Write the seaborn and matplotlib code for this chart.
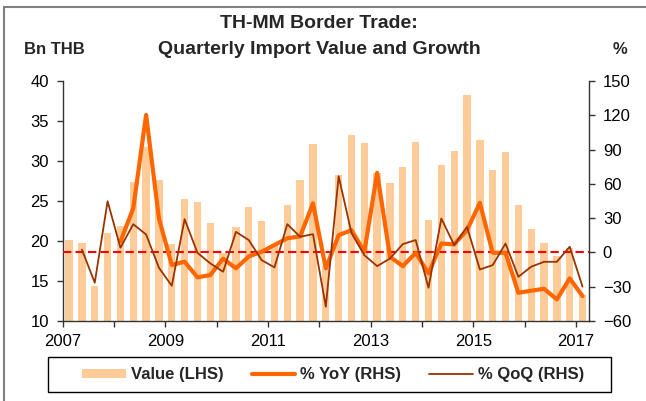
import numpy as np
import pandas as pd
import matplotlib.pyplot as plt
import matplotlib.patches as mpatches
from matplotlib.lines import Line2D
import seaborn as sns

# quarterly series, 2007Q1 - 2017Q1
quarters = [f"{y}Q{q}" for y in range(2007, 2018) for q in range(1, 5)][:41]

# import value, Bn THB (LHS)
value = [20.1, 19.7, 14.4, 21.0, 21.9, 27.4, 31.7, 27.6, 19.6, 25.3,
         24.9, 22.3, 18.5, 21.8, 24.2, 22.5, 19.6, 24.5, 27.6, 32.1,
         16.9, 28.2, 33.2, 32.3, 28.5, 27.2, 29.2, 32.4, 22.6, 29.5,
         31.3, 38.2, 32.6, 28.9, 31.1, 24.5, 21.5, 19.8, 18.1, 19.1,
         13.3]

# % YoY (RHS)
yoy = [np.nan] * 4 + [9.4, 38.6, 120.3, 29.8, -11.0, -8.1, -21.8, -19.8, -5.5, -13.9,
                      -3.5, 0.6, 6.5, 12.4, 14.0, 43.0, -13.9, 15.1, 19.5, 0.6,
                      69.6, -3.8, -12.0, -0.3, -18.4, 7.8, 7.0, 19.5, 43.4, -0.3,
                      -0.3, -35.3, -33.5, -31.8, -41.1, -22.7, -38.2]

# % QoQ (RHS)
qoq = [np.nan] + [2.5, -26.5, 44.8, 4.1, 24.7, 15.7, -13.4, -29.2, 29.1, -0.3,
                  -9.6, -16.9, 18.0, 10.8, -6.7, -13.1, 24.7, 13.7, 16.0, -47.5,
                  66.7, 17.0, -2.4, -12.0, -5.3, 7.3, 10.8, -30.9, 29.7, 6.4,
                  22.4, -14.9, -11.1, 7.8, -21.3, -12.5, -8.2, -8.2, 5.0, -30.0]

year_ticks = list(range(2007, 2018))
year_labels = [str(y) if y % 2 == 1 else '' for y in year_ticks]

per = pd.PeriodIndex(quarters, freq='Q')
df = pd.DataFrame({'x': per.year + (per.quarter - 0.5) / 4,
                   'value': value, 'yoy': yoy, 'qoq': qoq})

sns.set_style('ticks')
plt.rcParams['font.family'] = ['Liberation Sans', 'DejaVu Sans']

fig = plt.figure(figsize=(6.46, 4.01), dpi=100)
ax = fig.add_axes([0.097, 0.1995, 0.8147, 0.5985])

sns.barplot(data=df, x='x', y='value', native_scale=True, width=0.57,
            color='#FFCC99', saturation=1, linewidth=0, ax=ax)

ax2 = ax.twinx()
ax2.axhline(0, color='red', ls=(0, (4, 2)), lw=1.5, zorder=1)
sns.lineplot(data=df, x='x', y='yoy', color='#FF6600', lw=3, ax=ax2, zorder=3)
sns.lineplot(data=df, x='x', y='qoq', color='#993300', lw=1.3, ax=ax2, zorder=4)

ax.set_xlim(2007, 2017.25)
ax.set_ylim(10, 40)
ax.set_yticks(range(10, 41, 5))
ax2.set_ylim(-60, 150)
ax2.set_yticks(range(-60, 151, 30))
ax.set_xticks(year_ticks)
ax.set_xticklabels(year_labels)
ax.set_xlabel('')
ax.set_ylabel('')
ax2.set_xlabel('')
ax2.set_ylabel('')

for a in (ax, ax2):
    a.spines['top'].set_visible(False)
    for s in a.spines.values():
        s.set_color('#333333')
        s.set_linewidth(1)
    a.tick_params(direction='out', length=4, width=1, color='#333333',
                  labelcolor='black', labelsize=12, pad=6)
ax.spines['right'].set_visible(False)
ax2.spines['left'].set_visible(False)
ax2.spines['bottom'].set_visible(False)
ax.tick_params(axis='x', pad=5)

# titles
fig.text(319 / 646, 1 - 23 / 401, 'TH-MM Border Trade:', ha='center', va='center',
         fontsize=14, fontweight='bold')
fig.text(319 / 646, 1 - 49.5 / 401, 'Quarterly Import Value and Growth', ha='center',
         va='center', fontsize=14, fontweight='bold')
fig.text(24 / 646, 1 - 49.5 / 401, 'Bn THB', ha='left', va='center',
         fontsize=12, fontweight='bold')
fig.text(620 / 646, 1 - 49.5 / 401, '%', ha='center', va='center',
         fontsize=12, fontweight='bold')

# legend
handles = [mpatches.Patch(facecolor='#FFCC99', edgecolor='none'),
           Line2D([], [], color='#FF6600', lw=3),
           Line2D([], [], color='#993300', lw=1.3)]
labels = ['Value (LHS)', '% YoY (RHS)', '% QoQ (RHS)']
fig.legend(handles, labels, loc='center', bbox_to_anchor=(333 / 646, 1 - 374.8 / 401),
           ncol=3, frameon=False, prop={'weight': 'bold', 'size': 12},
           handlelength=2.6, handleheight=0.45, handletextpad=0.3, columnspacing=1.7)
fig.patches.append(mpatches.Rectangle((48 / 646, 1 - 392.3 / 401), 563 / 646, 35 / 401,
                                      transform=fig.transFigure, fill=False,
                                      edgecolor='black', lw=1))

# outer frame
fig.patches.append(mpatches.Rectangle((4 / 646, -0.1), 1.1, 1.1 - 7.3 / 401,
                                      transform=fig.transFigure, fill=False,
                                      edgecolor='#808080', lw=1.5))

fig.savefig('out.png', dpi=100)
